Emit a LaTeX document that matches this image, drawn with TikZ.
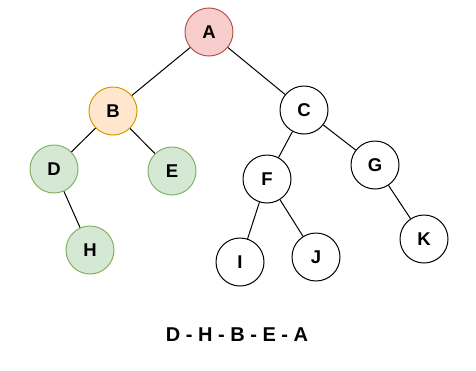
\documentclass[tikz,border=0pt]{standalone}
\usepackage{fontspec}
\setmainfont{Liberation Sans}
\usepackage{xcolor}
\usetikzlibrary{positioning}

\definecolor{redfill}{HTML}{F8CECC}
\definecolor{redline}{HTML}{B85450}
\definecolor{orangefill}{HTML}{FFE6CC}
\definecolor{orangeline}{HTML}{D79B00}
\definecolor{greenfill}{HTML}{D5E8D4}
\definecolor{greenline}{HTML}{82B366}

\begin{document}
\begin{tikzpicture}[
    x=1pt, y=-1pt,
    vertex/.style={circle, draw, line width=1pt, fill=white, minimum size=48pt, inner sep=0pt,
        font=\fontsize{18.5}{18.5}\selectfont\bfseries},
    root/.style={vertex, draw=redline, fill=redfill},
    visited/.style={vertex, draw=orangeline, fill=orangefill},
    leafnode/.style={vertex, draw=greenline, fill=greenfill},
    edge/.style={line width=1pt}
]
    \useasboundingbox (0,0) rectangle (476,370);

    \node[root] (A) at (209,32) {A};
    \node[visited] (B) at (113,111) {B};
    \node[vertex] (C) at (304,110) {C};
    \node[leafnode] (D) at (54,169) {D};
    \node[leafnode] (E) at (172,171) {E};
    \node[vertex] (F) at (267,179) {F};
    \node[vertex] (G) at (375,165) {G};
    \node[leafnode] (H) at (90,250) {H};
    \node[vertex] (I) at (240,262) {I};
    \node[vertex] (J) at (316,257) {J};
    \node[vertex] (K) at (424,239) {K};

    \draw[edge] (A) -- (B);
    \draw[edge] (A) -- (C);
    \draw[edge] (B) -- (D);
    \draw[edge] (B) -- (E);
    \draw[edge] (D) -- (H);
    \draw[edge] (C) -- (F);
    \draw[edge] (C) -- (G);
    \draw[edge] (F) -- (I);
    \draw[edge] (F) -- (J);
    \draw[edge] (G) -- (K);

    \node[font=\fontsize{20}{20}\selectfont\bfseries] (order) at (237,335) {D - H - B - E - A};
\end{tikzpicture}
\end{document}
